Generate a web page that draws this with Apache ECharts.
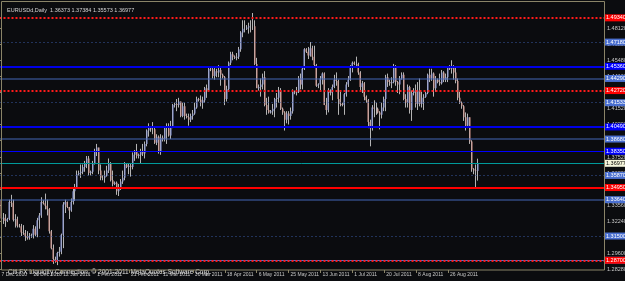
<!DOCTYPE html>
<html><head><meta charset="utf-8">
<script src="https://cdn.jsdelivr.net/npm/echarts@6/dist/echarts.min.js"></script>
<style>html,body{margin:0;padding:0;background:#0b0c0f;}#c{width:625px;height:281px;}</style>
</head><body><div id="c"></div>
<script>
const dates = [
'2010-12-07','2010-12-08','2010-12-09','2010-12-10',
'2010-12-12','2010-12-13','2010-12-14','2010-12-15','2010-12-16','2010-12-17',
'2010-12-19','2010-12-20','2010-12-21','2010-12-22','2010-12-23','2010-12-24',
'2010-12-26','2010-12-27','2010-12-28','2010-12-29','2010-12-30','2010-12-31',
'2011-01-02','2011-01-03','2011-01-04','2011-01-05','2011-01-06','2011-01-07',
'2011-01-09','2011-01-10','2011-01-11','2011-01-12','2011-01-13','2011-01-14',
'2011-01-16','2011-01-17','2011-01-18','2011-01-19','2011-01-20','2011-01-21',
'2011-01-23','2011-01-24','2011-01-25','2011-01-26','2011-01-27','2011-01-28',
'2011-01-30','2011-01-31','2011-02-01','2011-02-02','2011-02-03','2011-02-04',
'2011-02-06','2011-02-07','2011-02-08','2011-02-09','2011-02-10','2011-02-11',
'2011-02-13','2011-02-14','2011-02-15','2011-02-16','2011-02-17','2011-02-18',
'2011-02-20','2011-02-21','2011-02-22','2011-02-23','2011-02-24','2011-02-25',
'2011-02-27','2011-02-28','2011-03-01','2011-03-02','2011-03-03','2011-03-04',
'2011-03-06','2011-03-07','2011-03-08','2011-03-09','2011-03-10','2011-03-11',
'2011-03-13','2011-03-14','2011-03-15','2011-03-16','2011-03-17','2011-03-18',
'2011-03-20','2011-03-21','2011-03-22','2011-03-23','2011-03-24','2011-03-25',
'2011-03-27','2011-03-28','2011-03-29','2011-03-30','2011-03-31','2011-04-01',
'2011-04-03','2011-04-04','2011-04-05','2011-04-06','2011-04-07','2011-04-08',
'2011-04-10','2011-04-11','2011-04-12','2011-04-13','2011-04-14','2011-04-15',
'2011-04-17','2011-04-18','2011-04-19','2011-04-20','2011-04-21','2011-04-22',
'2011-04-24','2011-04-25','2011-04-26','2011-04-27','2011-04-28','2011-04-29',
'2011-05-01','2011-05-02','2011-05-03','2011-05-04','2011-05-05','2011-05-06',
'2011-05-08','2011-05-09','2011-05-10','2011-05-11','2011-05-12','2011-05-13',
'2011-05-15','2011-05-16','2011-05-17','2011-05-18','2011-05-19','2011-05-20',
'2011-05-22','2011-05-23','2011-05-24','2011-05-25','2011-05-26','2011-05-27',
'2011-05-29','2011-05-30','2011-05-31','2011-06-01','2011-06-02','2011-06-03',
'2011-06-05','2011-06-06','2011-06-07','2011-06-08','2011-06-09','2011-06-10',
'2011-06-12','2011-06-13','2011-06-14','2011-06-15','2011-06-16','2011-06-17',
'2011-06-19','2011-06-20','2011-06-21','2011-06-22','2011-06-23','2011-06-24',
'2011-06-26','2011-06-27','2011-06-28','2011-06-29','2011-06-30','2011-07-01',
'2011-07-03','2011-07-04','2011-07-05','2011-07-06','2011-07-07','2011-07-08',
'2011-07-10','2011-07-11','2011-07-12','2011-07-13','2011-07-14','2011-07-15',
'2011-07-17','2011-07-18','2011-07-19','2011-07-20','2011-07-21','2011-07-22',
'2011-07-24','2011-07-25','2011-07-26','2011-07-27','2011-07-28','2011-07-29',
'2011-07-31','2011-08-01','2011-08-02','2011-08-03','2011-08-04','2011-08-05',
'2011-08-07','2011-08-08','2011-08-09','2011-08-10','2011-08-11','2011-08-12',
'2011-08-14','2011-08-15','2011-08-16','2011-08-17','2011-08-18','2011-08-19',
'2011-08-21','2011-08-22','2011-08-23','2011-08-24','2011-08-25','2011-08-26',
'2011-08-28','2011-08-29','2011-08-30','2011-08-31','2011-09-01','2011-09-02',
'2011-09-04','2011-09-05','2011-09-06','2011-09-07','2011-09-08','2011-09-09',
'2011-09-11','2011-09-12','2011-09-13'
];
const open = [
1.3400,1.3260,1.3245,1.3250,
1.3225,1.3240,1.3380,1.3375,1.3235,1.3240,
1.3185,1.3180,1.3130,1.3125,1.3100,1.3085,
1.3100,1.3105,1.3160,1.3110,1.3230,1.3270,
1.3380,1.3370,1.3350,1.3320,1.3140,1.3000,
1.2910,1.2905,1.2960,1.2970,1.3110,1.3360,
1.3380,1.3340,1.3310,1.3380,1.3470,1.3500,
1.3610,1.3620,1.3630,1.3670,1.3700,1.3740,
1.3620,1.3630,1.3700,1.3800,1.3830,1.3640,
1.3580,1.3580,1.3600,1.3640,1.3700,1.3560,
1.3530,1.3540,1.3470,1.3500,1.3550,1.3580,
1.3690,1.3670,1.3680,1.3670,1.3770,1.3800,
1.3760,1.3770,1.3800,1.3780,1.3860,1.3970,
1.3990,1.3980,1.3980,1.3870,1.3920,1.3800,
1.3910,1.3900,1.3990,1.3990,1.3930,1.4000,
1.4180,1.4190,1.4180,1.4210,1.4090,1.4170,
1.4090,1.4080,1.4060,1.4090,1.4110,1.4160,
1.4230,1.4225,1.4200,1.4220,1.4320,1.4300,
1.4480,1.4475,1.4420,1.4460,1.4450,1.4470,
1.4430,1.4410,1.4230,1.4310,1.4530,1.4600,
1.4580,1.4570,1.4580,1.4640,1.4780,1.4810,
1.4810,1.4820,1.4830,1.4830,1.4830,1.4520,
1.4320,1.4330,1.4350,1.4410,1.4180,1.4140,
1.4120,1.4130,1.4150,1.4230,1.4240,1.4300,
1.4150,1.4120,1.4060,1.4110,1.4090,1.4130,
1.4290,1.4285,1.4290,1.4400,1.4350,1.4480,
1.4640,1.4620,1.4590,1.4650,1.4580,1.4510,
1.4340,1.4350,1.4400,1.4440,1.4180,1.4140,
1.4300,1.4280,1.4330,1.4390,1.4380,1.4230,
1.4190,1.4180,1.4270,1.4350,1.4390,1.4500,
1.4530,1.4520,1.4520,1.4450,1.4330,1.4360,
1.4250,1.4220,1.4040,1.3990,1.4160,1.4150,
1.4150,1.4120,1.4100,1.4160,1.4230,1.4410,
1.4370,1.4360,1.4370,1.4500,1.4370,1.4350,
1.4400,1.4430,1.4230,1.4200,1.4330,1.4140,
1.4280,1.4300,1.4190,1.4300,1.4190,1.4240,
1.4250,1.4280,1.4430,1.4400,1.4440,1.4320,
1.4390,1.4370,1.4360,1.4450,1.4390,1.4410,
1.4490,1.4480,1.4500,1.4450,1.4380,1.4240,
1.4200,1.4170,1.4080,1.4010,1.4080,1.3880,
1.3650,1.3640,1.36373
];
const high = [
1.3446,1.3300,1.3290,1.3280,
1.3250,1.3400,1.3440,1.3400,1.3280,1.3260,
1.3200,1.3200,1.3190,1.3150,1.3140,1.3125,
1.3120,1.3190,1.3180,1.3250,1.3290,1.3420,
1.3395,1.3450,1.3400,1.3330,1.3150,1.3030,
1.2930,1.2970,1.3010,1.3120,1.3380,1.3400,
1.3385,1.3340,1.3410,1.3490,1.3530,1.3640,
1.3640,1.3690,1.3690,1.3720,1.3760,1.3760,
1.3640,1.3720,1.3820,1.3860,1.3830,1.3690,
1.3600,1.3640,1.3680,1.3740,1.3710,1.3640,
1.3550,1.3550,1.3530,1.3570,1.3640,1.3710,
1.3700,1.3700,1.3700,1.3790,1.3810,1.3860,
1.3780,1.3820,1.3860,1.3880,1.3980,1.4030,
1.4000,1.4040,1.4000,1.3940,1.3930,1.3940,
1.3930,1.4000,1.4030,1.4030,1.4050,1.4190,
1.4200,1.4230,1.4240,1.4210,1.4200,1.4200,
1.4110,1.4110,1.4110,1.4140,1.4200,1.4250,
1.4240,1.4260,1.4250,1.4330,1.4350,1.4490,
1.4500,1.4490,1.4500,1.4480,1.4510,1.4490,
1.4440,1.4420,1.4340,1.4540,1.4620,1.4620,
1.4590,1.4610,1.4660,1.4790,1.4880,1.4880,
1.4840,1.4860,1.4880,1.4940,1.4880,1.4570,
1.4350,1.4400,1.4440,1.4460,1.4240,1.4250,
1.4140,1.4190,1.4240,1.4280,1.4330,1.4320,
1.4160,1.4130,1.4130,1.4130,1.4160,1.4310,
1.4300,1.4330,1.4420,1.4440,1.4490,1.4650,
1.4650,1.4660,1.4700,1.4670,1.4670,1.4520,
1.4360,1.4420,1.4450,1.4450,1.4240,1.4320,
1.4310,1.4350,1.4430,1.4450,1.4390,1.4300,
1.4200,1.4280,1.4370,1.4420,1.4510,1.4540,
1.4540,1.4580,1.4530,1.4460,1.4380,1.4370,
1.4260,1.4230,1.4060,1.4180,1.4220,1.4200,
1.4160,1.4130,1.4200,1.4250,1.4430,1.4440,
1.4390,1.4410,1.4520,1.4510,1.4380,1.4420,
1.4450,1.4450,1.4270,1.4350,1.4340,1.4300,
1.4320,1.4350,1.4370,1.4400,1.4290,1.4270,
1.4290,1.4440,1.4480,1.4480,1.4450,1.4420,
1.4400,1.4440,1.4470,1.4460,1.4440,1.4500,
1.4510,1.4550,1.4510,1.4490,1.4400,1.4290,
1.4210,1.4180,1.4120,1.4110,1.4080,1.3890,
1.3660,1.3690,1.37384
];
const low = [
1.3240,1.3215,1.3200,1.3175,
1.3215,1.3230,1.3340,1.3220,1.3170,1.3170,
1.3170,1.3100,1.3110,1.3060,1.3070,1.3070,
1.3085,1.3080,1.3100,1.3090,1.3160,1.3250,
1.3360,1.3320,1.3270,1.3120,1.2990,1.2870,
1.2880,1.2860,1.2930,1.2950,1.3000,1.3290,
1.3330,1.3240,1.3300,1.3360,1.3390,1.3490,
1.3600,1.3580,1.3610,1.3630,1.3660,1.3600,
1.3600,1.3610,1.3690,1.3760,1.3610,1.3560,
1.3560,1.3540,1.3590,1.3620,1.3550,1.3510,
1.3520,1.3440,1.3430,1.3480,1.3530,1.3560,
1.3660,1.3610,1.3590,1.3650,1.3720,1.3740,
1.3740,1.3700,1.3760,1.3740,1.3840,1.3920,
1.3960,1.3940,1.3860,1.3850,1.3780,1.3770,
1.3880,1.3880,1.3860,1.3920,1.3900,1.3990,
1.4160,1.4130,1.4160,1.4080,1.4080,1.4060,
1.4070,1.4010,1.4040,1.4060,1.4100,1.4150,
1.4210,1.4170,1.4150,1.4200,1.4240,1.4290,
1.4460,1.4400,1.4390,1.4410,1.4410,1.4340,
1.4400,1.4180,1.4210,1.4300,1.4510,1.4550,
1.4560,1.4550,1.4560,1.4620,1.4740,1.4780,
1.4800,1.4770,1.4780,1.4800,1.4510,1.4320,
1.4300,1.4250,1.4310,1.4170,1.4100,1.4110,
1.4110,1.4100,1.4080,1.4160,1.4200,1.4140,
1.4100,1.3970,1.4030,1.4020,1.4060,1.4110,
1.4270,1.4260,1.4280,1.4310,1.4310,1.4470,
1.4610,1.4560,1.4580,1.4550,1.4490,1.4330,
1.4320,1.4290,1.4350,1.4180,1.4100,1.4120,
1.4260,1.4220,1.4320,1.4340,1.4100,1.4170,
1.4170,1.4100,1.4250,1.4330,1.4380,1.4450,
1.4510,1.4500,1.4430,1.4300,1.4280,1.4220,
1.4200,1.3990,1.3840,1.3970,1.4080,1.4100,
1.4110,1.3980,1.4070,1.4130,1.4130,1.4330,
1.4340,1.4320,1.4360,1.4340,1.4280,1.4270,
1.4390,1.4220,1.4160,1.4160,1.4110,1.4050,
1.4260,1.4160,1.4140,1.4170,1.4160,1.4140,
1.4240,1.4270,1.4370,1.4380,1.4250,1.4290,
1.4360,1.4340,1.4350,1.4370,1.4370,1.4370,
1.4470,1.4440,1.4390,1.4360,1.4220,1.4190,
1.4150,1.4050,1.3970,1.3990,1.3860,1.3630,
1.3610,1.3495,1.35573
];
const close = [
1.3260,1.3245,1.3250,1.3225,
1.3240,1.3380,1.3375,1.3235,1.3240,1.3185,
1.3180,1.3130,1.3125,1.3100,1.3085,1.3100,
1.3105,1.3160,1.3110,1.3230,1.3270,1.3380,
1.3370,1.3350,1.3320,1.3140,1.3000,1.2910,
1.2905,1.2960,1.2970,1.3110,1.3360,1.3380,
1.3340,1.3310,1.3380,1.3470,1.3500,1.3610,
1.3620,1.3630,1.3670,1.3700,1.3740,1.3620,
1.3630,1.3700,1.3800,1.3830,1.3640,1.3580,
1.3580,1.3600,1.3640,1.3700,1.3560,1.3530,
1.3540,1.3470,1.3500,1.3550,1.3580,1.3690,
1.3670,1.3680,1.3670,1.3770,1.3800,1.3760,
1.3770,1.3800,1.3780,1.3860,1.3970,1.3990,
1.3980,1.3980,1.3870,1.3920,1.3800,1.3910,
1.3900,1.3990,1.3990,1.3930,1.4000,1.4180,
1.4190,1.4180,1.4210,1.4090,1.4170,1.4090,
1.4080,1.4060,1.4090,1.4110,1.4160,1.4230,
1.4225,1.4200,1.4220,1.4320,1.4300,1.4480,
1.4475,1.4420,1.4460,1.4450,1.4470,1.4430,
1.4410,1.4230,1.4310,1.4530,1.4600,1.4580,
1.4570,1.4580,1.4640,1.4780,1.4810,1.4810,
1.4820,1.4830,1.4830,1.4830,1.4520,1.4320,
1.4330,1.4350,1.4410,1.4180,1.4140,1.4120,
1.4130,1.4150,1.4230,1.4240,1.4300,1.4150,
1.4120,1.4060,1.4110,1.4090,1.4130,1.4290,
1.4285,1.4290,1.4400,1.4350,1.4480,1.4640,
1.4620,1.4590,1.4650,1.4580,1.4510,1.4340,
1.4350,1.4400,1.4440,1.4180,1.4140,1.4300,
1.4280,1.4330,1.4390,1.4380,1.4230,1.4190,
1.4180,1.4270,1.4350,1.4390,1.4500,1.4530,
1.4520,1.4520,1.4450,1.4330,1.4360,1.4250,
1.4220,1.4040,1.3990,1.4160,1.4150,1.4150,
1.4120,1.4100,1.4160,1.4230,1.4410,1.4370,
1.4360,1.4370,1.4500,1.4370,1.4350,1.4400,
1.4430,1.4230,1.4200,1.4330,1.4140,1.4280,
1.4300,1.4190,1.4300,1.4190,1.4240,1.4250,
1.4280,1.4430,1.4400,1.4440,1.4320,1.4390,
1.4370,1.4360,1.4450,1.4390,1.4410,1.4490,
1.4480,1.4500,1.4450,1.4380,1.4240,1.4200,
1.4170,1.4080,1.4010,1.4080,1.3880,1.3650,
1.3640,1.3637,1.36977
];
const xTickDates = ['2010-12-07','2010-12-26','2011-01-12','2011-02-01','2011-02-21','2011-03-11','2011-03-30','2011-04-18','2011-05-06','2011-05-25','2011-06-13','2011-07-01','2011-07-20','2011-08-08','2011-08-26'];
const yTicks = [1.28280,1.29600,1.30920,1.32240,1.33560,1.34880,1.36200,1.37520,1.38880,1.40200,1.41520,1.42840,1.44160,1.45480,1.46800,1.48120];
const levels = [1.49340,1.47180,1.45360,1.44290,1.42720,1.41533,1.40490,1.38680,1.38350,1.36977,1.35870,1.34950,1.33640,1.31500,1.29440,1.28700];
const titleText = 'EURUSDd,Daily  1.36373 1.37384 1.35573 1.36977';
const copyrightText = 'Citi FX Liquidity Connection, \u00a9 2001-2011 MetaQuotes Software Corp.';

// styles (kept separate from the data)
const ST = {
  redDot:   {line:{color:'#ff1a1a',width:2,type:[2,2]}, bg:'#ff0000', fg:'#ffffff'},
  sparse:   {line:{color:'#3a5aa6',width:1,type:[1,3]}, bg:'#4a6fd0', fg:'#ffffff'},
  thick:    {line:{color:'#0000e6',width:2,type:'solid'}, bg:'#0000ff', fg:'#ffffff'},
  steel:    {line:{color:'#4466b8',width:2,type:[1,1]}, bg:'#4a6fd0', fg:'#ffffff'},
  thin:     {line:{color:'#0000ff',width:1,type:'solid'}, bg:'#0000ff', fg:'#ffffff'},
  teal:     {line:{color:'#009a9a',width:1,type:'solid'}, bg:'#f5f5dc', fg:'#000000'},
  redSolid: {line:{color:'#ff0000',width:2,type:'solid'}, bg:'#ff0000', fg:'#ffffff'},
  steelThin:{line:{color:'#4a6fd0',width:1,type:'solid'}, bg:'#4a6fd0', fg:'#ffffff'}
};
const levelStyle = ['redDot','sparse','thick','steel','redDot','sparse','thick','steel','thin','teal','sparse','redSolid','steel','sparse','steelThin','redDot'];

const MONTHS = ['Jan','Feb','Mar','Apr','May','Jun','Jul','Aug','Sep','Oct','Nov','Dec'];
const fmtDate = d => (+d.slice(8,10)) + ' ' + MONTHS[+d.slice(5,7)-1] + ' ' + d.slice(0,4);
const xTickIdx = xTickDates.map(d => dates.indexOf(d));
const candles = dates.map((d,i) => [i, open[i], close[i], low[i], high[i]]);

const FONT = 'Liberation Sans, Arial, sans-serif';
const chart = echarts.init(document.getElementById('c'), null, {renderer:'canvas'});
chart.setOption({
  animation:false,
  backgroundColor:'#0b0c0f',
  textStyle:{fontFamily:FONT},
  title:[
    {text:titleText, left:2, top:2, textStyle:{color:'#d4d4d4', fontSize:5.5, fontWeight:'normal', fontFamily:FONT}},
    {text:copyrightText, left:3, top:264, textStyle:{color:'#e0e0e0', fontSize:6.5, fontWeight:'normal', fontFamily:FONT}}
  ],
  grid:{left:-0.5, right:21, top:2, bottom:11, containLabel:false, outerBoundsMode:'none'},
  xAxis:{
    type:'value', min:0, max:303.25,
    axisLine:{show:false}, splitLine:{show:false},
    axisTick:{show:true, customValues:xTickIdx, length:3, lineStyle:{color:'#8a8468'}},
    axisLabel:{show:true, customValues:xTickIdx, align:'left', margin:2, padding:[0,0,0,2],
      color:'#c8c8c8', fontSize:5, fontFamily:FONT,
      formatter:(v) => { const k = xTickIdx.indexOf(Math.round(v)); return k >= 0 ? fmtDate(xTickDates[k]) : ''; }}
  },
  yAxis:{
    type:'value', position:'right', min:1.281975, max:1.503075, scale:true,
    axisLine:{show:false}, splitLine:{show:false},
    axisTick:{show:true, customValues:yTicks, length:2, lineStyle:{color:'#8a8468'}},
    axisLabel:{show:true, customValues:yTicks, margin:3, color:'#c8c8c8', fontSize:5.5, fontFamily:FONT,
      formatter:(v) => v.toFixed(5)}
  },
  series:[
    {type:'candlestick', name:'wick', data:candles, encode:{x:0, y:[1,2,3,4]},
     barWidth:0.6, silent:true, clip:true,
     itemStyle:{color:'#b4b4b4', color0:'#b4b4b4', borderColor:'#b4b4b4', borderColor0:'#b4b4b4', borderWidth:1}},
    {type:'candlestick', name:'body', data:candles, encode:{x:0, y:[1,2,3,4]},
     barWidth:1.5, silent:true, clip:true,
     itemStyle:{color:'#8a98dc', color0:'#d6948a', borderColor:'rgba(0,0,0,0)', borderColor0:'rgba(0,0,0,0)', borderWidth:0},
     markLine:{
       symbol:'none', silent:true, animation:false,
       data: levels.map((v,k) => {
         const s = ST[levelStyle[k]];
         return {yAxis:v, lineStyle:s.line,
           label:{show:true, position:'end', distance:1, formatter:v.toFixed(5),
             backgroundColor:s.bg, color:s.fg, fontSize:5.5, fontFamily:FONT,
             padding:[1,1,0,1], lineHeight:6}};
       })
     }
    }
  ],
  graphic:[
    {type:'rect', z:100, silent:true, shape:{x:1.5, y:1.5, width:603, height:268.5},
     style:{fill:'none', stroke:'#8a8468', lineWidth:1}}
  ]
});
</script></body></html>
